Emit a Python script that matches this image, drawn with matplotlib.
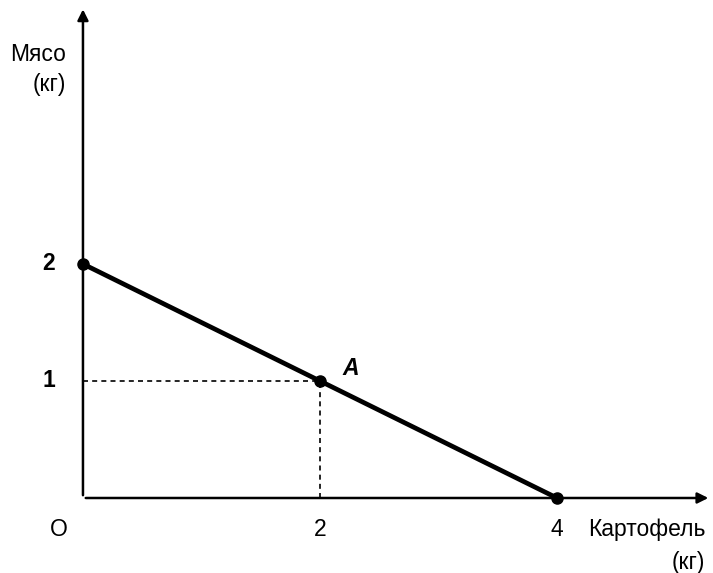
import matplotlib.pyplot as plt

# данные графика
line_x = [0, 4]
line_y = [2, 0]
points_x = [0, 2, 4]
points_y = [2, 1, 0]
point_a = (2, 1)
x_ticks = [2, 4]
x_tick_labels = ['2', '4']
y_ticks = [1, 2]
y_tick_labels = ['1', '2']

plt.rcParams['font.family'] = ['Liberation Sans', 'DejaVu Sans']

fig = plt.figure(figsize=(7.13, 5.73), dpi=100)
ax = fig.add_axes([0, 0, 1, 1])
ax.set_xlim(-0.700, 5.316)
ax.set_ylim(-0.641, 4.256)
ax.axis('off')

# оси со стрелками
ax.annotate('', xy=(5.30, 0), xytext=(0, 0),
            arrowprops=dict(arrowstyle='-|>', color='black', lw=1.8, mutation_scale=16))
ax.annotate('', xy=(0, 4.20), xytext=(0, 0),
            arrowprops=dict(arrowstyle='-|>', color='black', lw=1.8, mutation_scale=16))

# пунктир к точке A
ax.plot([0, point_a[0]], [point_a[1], point_a[1]], color='black', lw=1.2, ls=(0, (3, 2.5)))
ax.plot([point_a[0], point_a[0]], [0, point_a[1]], color='black', lw=1.2, ls=(0, (3, 2.5)))

# линия и точки
ax.plot(line_x, line_y, color='black', lw=3.4, solid_capstyle='round')
ax.plot(points_x, points_y, 'o', color='black', ms=8)

fs = 16.5
ax.text(point_a[0] + 0.26, point_a[1] + 0.11, 'A', fontsize=fs, fontweight='bold',
        fontstyle='italic', ha='center', va='center')

for v, lab in zip(y_ticks, y_tick_labels):
    ax.text(-0.29, v, lab, fontsize=fs, fontweight='bold', ha='center', va='center')
for v, lab in zip(x_ticks, x_tick_labels):
    ax.text(v, -0.27, lab, fontsize=fs, ha='center', va='center')
ax.text(-0.20, -0.27, 'O', fontsize=fs, ha='center', va='center')

ax.text(5.25, -0.27, 'Картофель', fontsize=fs, ha='right', va='center')
ax.text(5.25, -0.55, '(кг)', fontsize=fs, ha='right', va='center')
ax.text(-0.14, 3.79, 'Мясо', fontsize=fs, ha='right', va='center')
ax.text(-0.14, 3.53, '(кг)', fontsize=fs, ha='right', va='center')

fig.savefig('out.png', dpi=100)
